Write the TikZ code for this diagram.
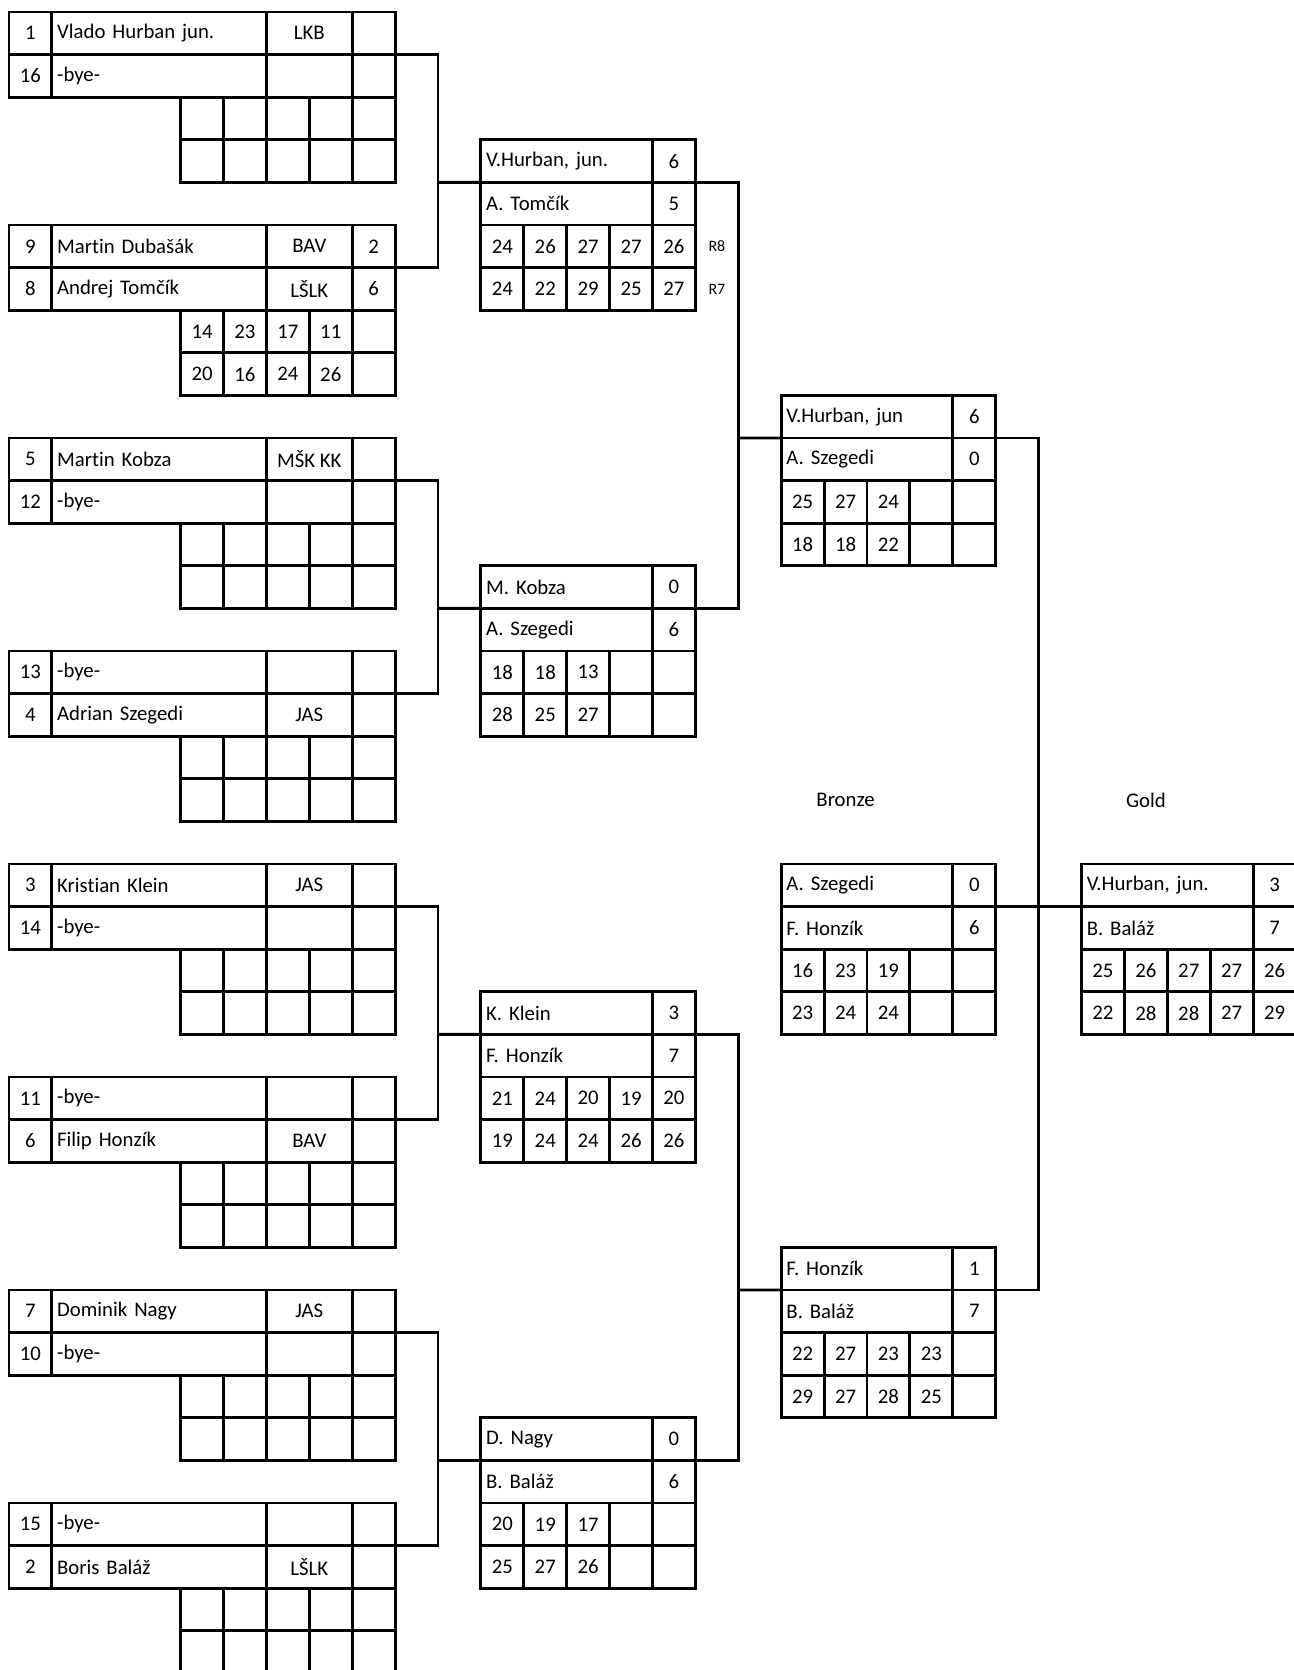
\documentclass[tikz,border=0pt]{standalone}
\usepackage{fontspec}
\setmainfont{Carlito}[Ligatures=NoCommon]
\tikzset{
cellbox/.style={draw=black, line width=1.7pt, anchor=north west, minimum width=0.9cm, minimum height=0.8937cm, inner sep=0pt, outer sep=0pt, font=\fontsize{12.4}{14}\selectfont},
wname/.style={cellbox, minimum width=4.5cm, text width=4.28cm, inner xsep=3pt, align=left},
sname/.style={cellbox, minimum width=3.6cm, text width=3.38cm, inner xsep=3pt, align=left},
clubbox/.style={cellbox, minimum width=1.8cm},
link/.style={draw=black, line width=1.7pt},
tag/.style={font=\fontsize{9.5}{11}\selectfont},
medal/.style={font=\fontsize{12.4}{14}\selectfont}
}
\begin{document}
\begin{tikzpicture}[x=0.9cm, y=-0.8937cm]
\useasboundingbox (-0.21,-0.2817) rectangle (29.953,38.92);
\foreach \r/\seed/\who/\club/\pts in {0/1/Vlado Hurban jun./LKB/{}, 1/16/-bye-/{}/{}, 5/9/Martin Dubašák/BAV/2, 6/8/Andrej Tomčík/LŠLK/6, 10/5/Martin Kobza/MŠK KK/{}, 11/12/-bye-/{}/{}, 15/13/-bye-/{}/{}, 16/4/Adrian Szegedi/JAS/{}, 20/3/Kristian Klein/JAS/{}, 21/14/-bye-/{}/{}, 25/11/-bye-/{}/{}, 26/6/Filip Honzík/BAV/{}, 30/7/Dominik Nagy/JAS/{}, 31/10/-bye-/{}/{}, 35/15/-bye-/{}/{}, 36/2/Boris Baláž/LŠLK/{}}{
  \node[cellbox] (seed\r) at (0,\r) {\seed};
  \node[wname] (who\r) at (1,\r) {\who};
  \node[clubbox] (club\r) at (6,\r) {\club};
  \node[cellbox] (pts\r) at (8,\r) {\pts};
}
\foreach \r in {2,3,12,13,17,18,22,23,27,28,32,33,37,38}
  \foreach \k in {0,...,4}
    \node[cellbox] (g\r-4-\k) at (4+\k,\r) {};
\foreach \r/\c/\who/\pts in {3/11/{V.Hurban, jun.}/6, 4/11/A. Tomčík/5, 13/11/M. Kobza/0, 14/11/A. Szegedi/6, 23/11/K. Klein/3, 24/11/F. Honzík/7, 33/11/D. Nagy/0, 34/11/B. Baláž/6, 9/18/{V.Hurban, jun}/6, 10/18/A. Szegedi/0, 29/18/F. Honzík/1, 30/18/B. Baláž/7, 20/18/A. Szegedi/0, 21/18/F. Honzík/6, 20/25/{V.Hurban, jun.}/3, 21/25/B. Baláž/7}{
  \node[sname] (n\r-\c) at (\c,\r) {\who};
  \node[cellbox] (p\r-\c) at (\c+4,\r) {\pts};
}
\foreach \r/\c/\vals in {7/4/{14,23,17,11,{}}, 8/4/{20,16,24,26,{}}, 5/11/{24,26,27,27,26}, 6/11/{24,22,29,25,27}, 15/11/{18,18,13,{},{}}, 16/11/{28,25,27,{},{}}, 25/11/{21,24,20,19,20}, 26/11/{19,24,24,26,26}, 35/11/{20,19,17,{},{}}, 36/11/{25,27,26,{},{}}, 11/18/{25,27,24,{},{}}, 12/18/{18,18,22,{},{}}, 31/18/{22,27,23,23,{}}, 32/18/{29,27,28,25,{}}, 22/18/{16,23,19,{},{}}, 23/18/{23,24,24,{},{}}, 22/25/{25,26,27,27,26}, 23/25/{22,28,28,27,29}}
  \foreach \v [count=\k from 0] in \vals
    \node[cellbox] (g\r-\c-\k) at (\c+\k,\r) {\v};
\node[tag] (r8) at (16.5,5.5) {R8};
\node[tag] (r7) at (16.5,6.5) {R7};
\node[medal] (bronze) at (19.5,18.5) {Bronze};
\node[medal] (gold) at (26.5,18.5) {Gold};
\coordinate (jAB) at (10,4);
\coordinate (jCD) at (10,14);
\coordinate (jEF) at (10,24);
\coordinate (jGH) at (10,34);
\coordinate (jQ12) at (17,10);
\coordinate (jQ34) at (17,30);
\coordinate (jS12) at (24,21);
\draw[link] (pts0.south east) -| (jAB) |- (pts5.south east);
\draw[link] (jAB) -- (n3-11.south west);
\draw[link] (pts10.south east) -| (jCD) |- (pts15.south east);
\draw[link] (jCD) -- (n13-11.south west);
\draw[link] (pts20.south east) -| (jEF) |- (pts25.south east);
\draw[link] (jEF) -- (n23-11.south west);
\draw[link] (pts30.south east) -| (jGH) |- (pts35.south east);
\draw[link] (jGH) -- (n33-11.south west);
\draw[link] (p3-11.south east) -| (jQ12) |- (p13-11.south east);
\draw[link] (jQ12) -- (n9-18.south west);
\draw[link] (p23-11.south east) -| (jQ34) |- (p33-11.south east);
\draw[link] (jQ34) -- (n29-18.south west);
\draw[link] (p9-18.south east) -| (jS12) |- (p29-18.south east);
\draw[link] (p20-18.south east) -- (n20-25.south west);
\end{tikzpicture}
\end{document}
